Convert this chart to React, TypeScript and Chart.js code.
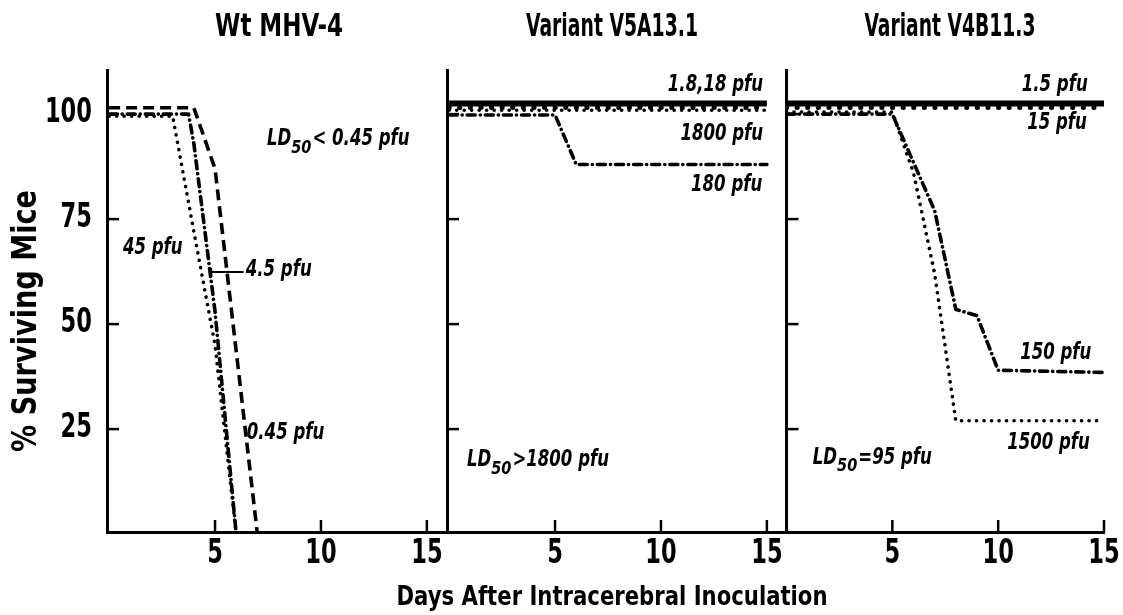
import React, { useEffect, useRef } from "react";
import { Chart, registerables } from "chart.js";

Chart.register(...registerables);

const FONT =
  "'Liberation Sans Narrow', 'Arial Narrow', 'DejaVu Sans Condensed', 'Roboto Condensed', 'Liberation Sans', sans-serif";

// ---- axis ticks and texts ----
const dayTicks = [5, 10, 15];
const survivalTicks = [25, 50, 75, 100];
const panelTitles = ["Wt MHV-4", "Variant V5A13.1", "Variant V4B11.3"];
const yAxisTitle = "% Surviving Mice";
const xAxisTitle = "Days After Intracerebral Inoculation";

// ---- Panel 1: Wt MHV-4 ----
const wtDays045 = [0, 4, 5, 7];
const wtSurv045 = [101.5, 101.5, 87, 0]; // 0.45 pfu
const wtDays4_5 = [0, 3.75, 4, 5, 6];
const wtSurv4_5 = [100, 100, 93, 53, 0]; // 4.5 pfu
const wtDays45 = [0, 3, 4, 5, 6];
const wtSurv45 = [99.5, 99.5, 72, 45, 0]; // 45 pfu

// ---- Panel 2: Variant V5A13.1 ----
const v5DaysFlat = [0, 15];
const v5Surv1_8 = [102.5, 102.5]; // 1.8 pfu
const v5Surv18 = [101.6, 101.6]; // 18 pfu
const v5Surv1800 = [100.9, 100.9]; // 1800 pfu
const v5Days180 = [0, 5, 6, 15];
const v5Surv180 = [99.8, 99.8, 88, 88]; // 180 pfu

// ---- Panel 3: Variant V4B11.3 ----
const v4DaysFlat = [0, 15];
const v4Surv1_5 = [102.5, 102.5]; // 1.5 pfu
const v4Surv15 = [101.6, 101.6]; // 15 pfu
const v4Days150 = [0, 5, 6, 7, 8, 9, 10, 15];
const v4Surv150 = [100, 100, 88.5, 77, 53.5, 52, 39, 38.5]; // 150 pfu
const v4Days1500 = [0, 5, 6, 7, 8, 15];
const v4Surv1500 = [100.5, 100.5, 86, 62, 27, 27]; // 1500 pfu

const pts = (xs: number[], ys: number[]) => xs.map((x, i) => ({ x, y: ys[i] }));

const STYLE: Record<string, any> = {
  solid: { borderWidth: 6, borderDash: [], borderCapStyle: "butt" },
  dotted: { borderWidth: 3.6, borderDash: [0.1, 7.4], borderCapStyle: "round" },
  dashDot: { borderWidth: 3.6, borderDash: [8, 5, 0.1, 5], borderCapStyle: "round" },
  dashed: { borderWidth: 3.6, borderDash: [11, 6], borderCapStyle: "butt" },
  circlesOuter: { borderWidth: 5, borderDash: [0.1, 10.5], borderCapStyle: "round" },
  circlesInner: { borderWidth: 2.2, borderDash: [0.1, 10.5], borderCapStyle: "round" },
};

function ds(label: string, data: any[], style: string, color = "#000") {
  return {
    label,
    data,
    borderColor: color,
    backgroundColor: color,
    pointRadius: 0,
    tension: 0,
    fill: false,
    borderJoinStyle: "round",
    ...STYLE[style],
  };
}

type Ann = { runs: { t: string; sub?: boolean }[]; day: number; surv: number; align: "left" | "right" };
const ld = (rest: string) => [{ t: "LD" }, { t: "50", sub: true }, { t: rest }];

const panels = [
  {
    padLeft: 0,
    padRight: 1123 - 447,
    yWidth: 107,
    xMin: -0.1,
    xMax: 15.95,
    showY: true,
    titleX: 279,
    titleW: 128,
    datasets: [
      ds("0.45 pfu", pts(wtDays045, wtSurv045), "dashed"),
      ds("4.5 pfu", pts(wtDays4_5, wtSurv4_5), "dashDot"),
      ds("45 pfu", pts(wtDays45, wtSurv45), "dotted"),
    ],
    anns: [
      { runs: ld("< 0.45 pfu"), day: 7.45, surv: 94, align: "left" },
      { runs: [{ t: "45 pfu" }], day: 0.65, surv: 68.2, align: "left" },
      { runs: [{ t: "4.5 pfu" }], day: 6.45, surv: 62.9, align: "left" },
      { runs: [{ t: "0.45 pfu" }], day: 6.5, surv: 24.1, align: "left" },
    ] as Ann[],
    leader: { from: 4.82, to: 6.35, surv: 62.4 },
  },
  {
    padLeft: 440,
    padRight: 1123 - 787,
    yWidth: 7,
    xMin: -0.1,
    xMax: 15.95,
    showY: false,
    titleX: 612,
    titleW: 172,
    datasets: [
      ds("1.8 pfu", pts(v5DaysFlat, v5Surv1_8), "solid"),
      ds("18 pfu", pts(v5DaysFlat, v5Surv18), "circlesOuter"),
      ds("18 pfu ", pts(v5DaysFlat, v5Surv18), "circlesInner", "#fff"),
      ds("1800 pfu", pts(v5DaysFlat, v5Surv1800), "dotted"),
      ds("180 pfu", pts(v5Days180, v5Surv180), "dashDot"),
    ],
    anns: [
      { runs: [{ t: "1.8,18 pfu" }], day: 14.82, surv: 107, align: "right" },
      { runs: [{ t: "1800 pfu" }], day: 14.82, surv: 95.3, align: "right" },
      { runs: [{ t: "180 pfu" }], day: 14.78, surv: 83, align: "right" },
      { runs: ld(">1800 pfu"), day: 0.84, surv: 17.6, align: "left" },
    ] as Ann[],
  },
  {
    padLeft: 780,
    padRight: 19,
    yWidth: 6.5,
    xMin: 0,
    xMax: 15,
    showY: false,
    titleX: 950,
    titleW: 171,
    datasets: [
      ds("1.5 pfu", pts(v4DaysFlat, v4Surv1_5), "solid"),
      ds("15 pfu", pts(v4DaysFlat, v4Surv15), "circlesOuter"),
      ds("15 pfu ", pts(v4DaysFlat, v4Surv15), "circlesInner", "#fff"),
      ds("150 pfu", pts(v4Days150, v4Surv150), "dashDot"),
      ds("1500 pfu", pts(v4Days1500, v4Surv1500), "dotted"),
    ],
    anns: [
      { runs: [{ t: "1.5 pfu" }], day: 14.23, surv: 107, align: "right" },
      { runs: [{ t: "15 pfu" }], day: 14.19, surv: 97.9, align: "right" },
      { runs: [{ t: "150 pfu" }], day: 14.4, surv: 43, align: "right" },
      { runs: [{ t: "1500 pfu" }], day: 14.33, surv: 21.7, align: "right" },
      { runs: ld("=95 pfu"), day: 1.24, surv: 18.2, align: "left" },
    ] as Ann[],
  },
];

const ANN_SIZE = 23;
const SUB_SIZE = 17;
const ANN_SX = 0.8;
const SUB_SX = 0.95;

function fillScaled(
  ctx: CanvasRenderingContext2D,
  text: string,
  x: number,
  y: number,
  sx: number,
  align: CanvasTextAlign,
) {
  ctx.save();
  ctx.translate(x, y);
  ctx.scale(sx, 1);
  ctx.textAlign = align;
  ctx.textBaseline = "middle";
  ctx.fillText(text, 0, 0);
  ctx.restore();
}

function fillFit(ctx: CanvasRenderingContext2D, text: string, x: number, y: number, w: number) {
  const sx = w / ctx.measureText(text).width;
  fillScaled(ctx, text, x, y, sx, "center");
}

function drawRuns(ctx: CanvasRenderingContext2D, runs: Ann["runs"], x: number, y: number, align: string) {
  const fontFor = (sub?: boolean) => `italic bold ${sub ? SUB_SIZE : ANN_SIZE}px ${FONT}`;
  const widthOf = (r: { t: string; sub?: boolean }) => {
    ctx.font = fontFor(r.sub);
    return ctx.measureText(r.t).width * (r.sub ? SUB_SX : ANN_SX) + (r.sub ? 1 : 0);
  };
  let total = 0;
  for (const r of runs) total += widthOf(r);
  let cx = align === "right" ? x - total : x;
  for (const r of runs) {
    const w = widthOf(r);
    fillScaled(ctx, r.t, cx, r.sub ? y + 9 : y, r.sub ? SUB_SX : ANN_SX, "left");
    cx += w;
  }
}

function makeDecor(panel: any, index: number) {
  return {
    id: "decor" + index,
    afterDraw(chart: any) {
      const { ctx, chartArea, scales } = chart;
      const xs = scales.x;
      const ys = scales.y;
      ctx.save();
      ctx.strokeStyle = "#000";
      ctx.fillStyle = "#000";
      ctx.lineWidth = 2.5;
      // inward tick marks and tick labels, from the scales' own ticks
      ctx.font = `bold 33px ${FONT}`;
      for (const t of xs.ticks) {
        const px = xs.getPixelForValue(t.value);
        ctx.beginPath();
        ctx.moveTo(px, chartArea.bottom);
        ctx.lineTo(px, chartArea.bottom - 12);
        ctx.stroke();
        fillScaled(ctx, String(t.value), px, chartArea.bottom + 22, 0.76, "center");
      }
      for (const t of ys.ticks) {
        const py = ys.getPixelForValue(t.value);
        ctx.beginPath();
        ctx.moveTo(chartArea.left, py);
        ctx.lineTo(chartArea.left + 12, py);
        ctx.stroke();
        if (panel.showY) fillScaled(ctx, String(t.value), chartArea.left - 15, py - 1, 0.76, "right");
      }
      // leader line
      if (panel.leader) {
        const l = panel.leader;
        const y = ys.getPixelForValue(l.surv);
        const x1 = xs.getPixelForValue(l.from);
        const x2 = xs.getPixelForValue(l.to);
        ctx.lineWidth = 2;
        ctx.beginPath();
        ctx.moveTo(x1, y);
        ctx.lineTo(x2, y);
        ctx.moveTo(x1, y - 4);
        ctx.lineTo(x1, y + 4);
        ctx.stroke();
      }
      for (const a of panel.anns as Ann[]) {
        drawRuns(ctx, a.runs, xs.getPixelForValue(a.day), ys.getPixelForValue(a.surv), a.align);
      }
      // panel title
      ctx.font = `bold 32px ${FONT}`;
      fillFit(ctx, panelTitles[index], panel.titleX, 28, panel.titleW);
      if (index === 0) {
        ctx.save();
        ctx.translate(27, 321);
        ctx.rotate(-Math.PI / 2);
        ctx.font = `bold 34px ${FONT}`;
        fillFit(ctx, yAxisTitle, 0, 0, 262);
        ctx.restore();
      }
      if (index === 1) {
        ctx.font = `bold 26px ${FONT}`;
        fillFit(ctx, xAxisTitle, 612, 598, 431);
      }
      ctx.restore();
    },
  };
}

function buildConfig(panel: any, index: number): any {
  return {
    type: "line",
    data: { datasets: panel.datasets },
    options: {
      animation: false,
      responsive: false,
      devicePixelRatio: 1,
      layout: { padding: { left: panel.padLeft, right: panel.padRight, top: 70, bottom: 0 } },
      plugins: { legend: { display: false }, tooltip: { enabled: false }, title: { display: false } },
      scales: {
        x: {
          type: "linear",
          min: panel.xMin,
          max: panel.xMax,
          afterBuildTicks: (s: any) => {
            s.ticks = dayTicks.map((v) => ({ value: v }));
          },
          afterFit: (s: any) => {
            s.height = 83;
          },
          grid: { display: false, drawTicks: false },
          border: { display: true, width: 3, color: "#000" },
          ticks: { display: false },
        },
        y: {
          type: "linear",
          min: 0.5,
          max: 110.5,
          afterBuildTicks: (s: any) => {
            s.ticks = survivalTicks.map((v) => ({ value: v }));
          },
          afterFit: (s: any) => {
            s.width = panel.yWidth;
          },
          grid: { display: false, drawTicks: false },
          border: { display: true, width: 3, color: "#000" },
          ticks: { display: false },
        },
      },
    },
    plugins: [makeDecor(panel, index)],
  };
}

function PanelCanvas({ index }: { index: number }) {
  const ref = useRef<HTMLCanvasElement | null>(null);
  useEffect(() => {
    if (!ref.current) return;
    const chart = new Chart(ref.current, buildConfig(panels[index], index));
    return () => chart.destroy();
  }, [index]);
  return (
    <canvas
      ref={ref}
      width={1123}
      height={615}
      style={{ position: "absolute", left: 0, top: 0, width: 1123, height: 615 }}
    />
  );
}

export default function App() {
  return (
    <div style={{ position: "fixed", left: 0, top: 0, width: 1123, height: 615, background: "#fff" }}>
      {panels.map((_, i) => (
        <PanelCanvas key={i} index={i} />
      ))}
    </div>
  );
}
